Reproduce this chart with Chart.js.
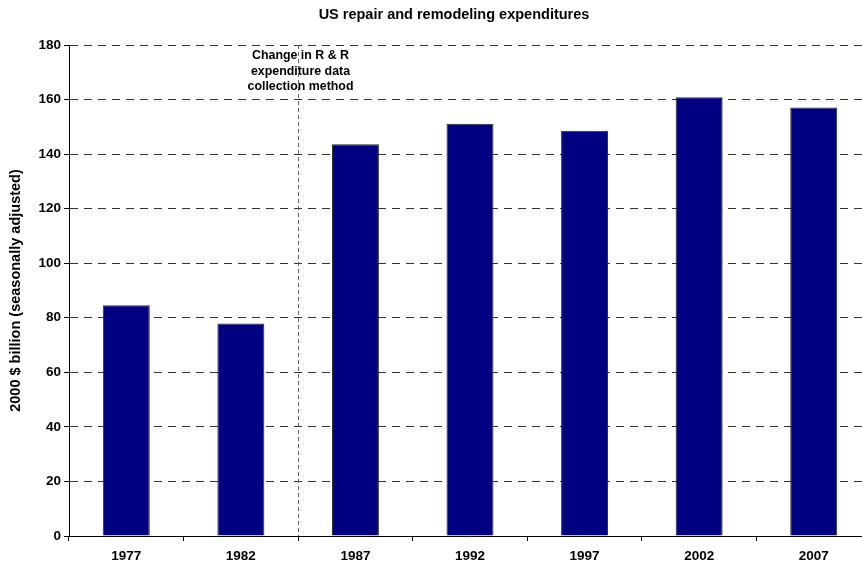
<!DOCTYPE html>
<html>
<head>
<meta charset="utf-8">
<script src="https://cdn.jsdelivr.net/npm/chart.js@4/dist/chart.umd.min.js"></script>
<style>
  html, body { margin: 0; padding: 0; overflow: hidden; background: #fff; }
  canvas { display: block; }
</style>
</head>
<body>
<canvas id="chart" width="908" height="571"></canvas>
<script>
// Survey years and real spending on residential repair & remodeling
const years = ['1977', '1982', '1987', '1992', '1997', '2002', '2007'];
const spending = [84.6, 77.9, 143.6, 151.1, 148.6, 160.8, 157.1];
const yTicks = [0, 20, 40, 60, 80, 100, 120, 140, 160, 180];

const chartTitle = 'US repair and remodeling expenditures';
const yAxisTitle = '2000 $ billion (seasonally adjusted)';
const breakAfterYear = '1982';
const noteLines = ['Change in R & R', 'expenditure data', 'collection method'];

const FONT = '"Liberation Sans", Arial, sans-serif';

// Dashed divider marking the change in data collection, with its note
const methodChange = {
  id: 'methodChange',
  afterDatasetsDraw(chart) {
    const { ctx, chartArea, scales: { x } } = chart;
    const idx = years.indexOf(breakAfterYear);
    const px = Math.round(x.getPixelForValue(idx + 0.5)) + 0.5;
    ctx.save();
    ctx.strokeStyle = '#666';
    ctx.lineWidth = 1;
    ctx.setLineDash([4, 3]);
    ctx.beginPath();
    ctx.moveTo(px, chartArea.top);
    ctx.lineTo(px, chartArea.bottom);
    ctx.stroke();
    ctx.setLineDash([]);
    ctx.fillStyle = '#000';
    ctx.font = 'bold 12.4px ' + FONT;
    ctx.textAlign = 'center';
    ctx.textBaseline = 'middle';
    noteLines.forEach((line, k) => {
      ctx.fillText(line, px + 2, chartArea.top + 11 + k * 15.5);
    });
    ctx.restore();
  }
};

new Chart(document.getElementById('chart'), {
  type: 'bar',
  data: {
    labels: years,
    datasets: [{
      data: spending,
      backgroundColor: '#000080',
      borderColor: '#2a2a2a',
      borderWidth: 1,
      barPercentage: 0.41,
      categoryPercentage: 1.0
    }]
  },
  options: {
    responsive: false,
    animation: false,
    layout: { padding: 0 },
    plugins: {
      legend: { display: false },
      tooltip: { enabled: false },
      title: {
        display: true,
        text: chartTitle,
        color: '#000',
        font: { family: FONT, size: 14.5, weight: 'bold' },
        padding: { top: 6, bottom: 21.6 }
      }
    },
    scales: {
      x: {
        grid: {
          display: true,
          drawOnChartArea: false,
          drawTicks: true,
          tickLength: 5,
          color: '#000',
          offset: true
        },
        border: { display: true, color: '#000', width: 1 },
        ticks: {
          color: '#000',
          font: { family: FONT, size: 13.5, weight: 'bold' },
          padding: 7,
          maxRotation: 0
        },
        afterFit: s => { s.height = 35; }
      },
      y: {
        min: 0,
        max: 180,
        afterBuildTicks: s => { s.ticks = yTicks.map(v => ({ value: v })); },
        grid: {
          color: c => (c.tick && c.tick.value === 0) ? 'rgba(0,0,0,0)' : '#333',
          tickColor: '#000',
          tickLength: 5,
          lineWidth: 1
        },
        border: { display: true, color: '#000', width: 1, dash: [8, 6] },
        ticks: {
          color: '#000',
          font: { family: FONT, size: 13.5, weight: 'bold' },
          padding: 3
        },
        title: {
          display: true,
          text: yAxisTitle,
          color: '#000',
          font: { family: FONT, size: 14.5, weight: 'bold' },
          padding: { top: 7.3, bottom: 0 }
        },
        afterFit: s => { s.width = 69; }
      },
      yPad: {
        type: 'linear',
        position: 'right',
        display: true,
        grid: { display: false },
        border: { display: false },
        ticks: { display: false },
        afterFit: s => { s.width = 37; }
      }
    }
  },
  plugins: [methodChange]
});
</script>
</body>
</html>
